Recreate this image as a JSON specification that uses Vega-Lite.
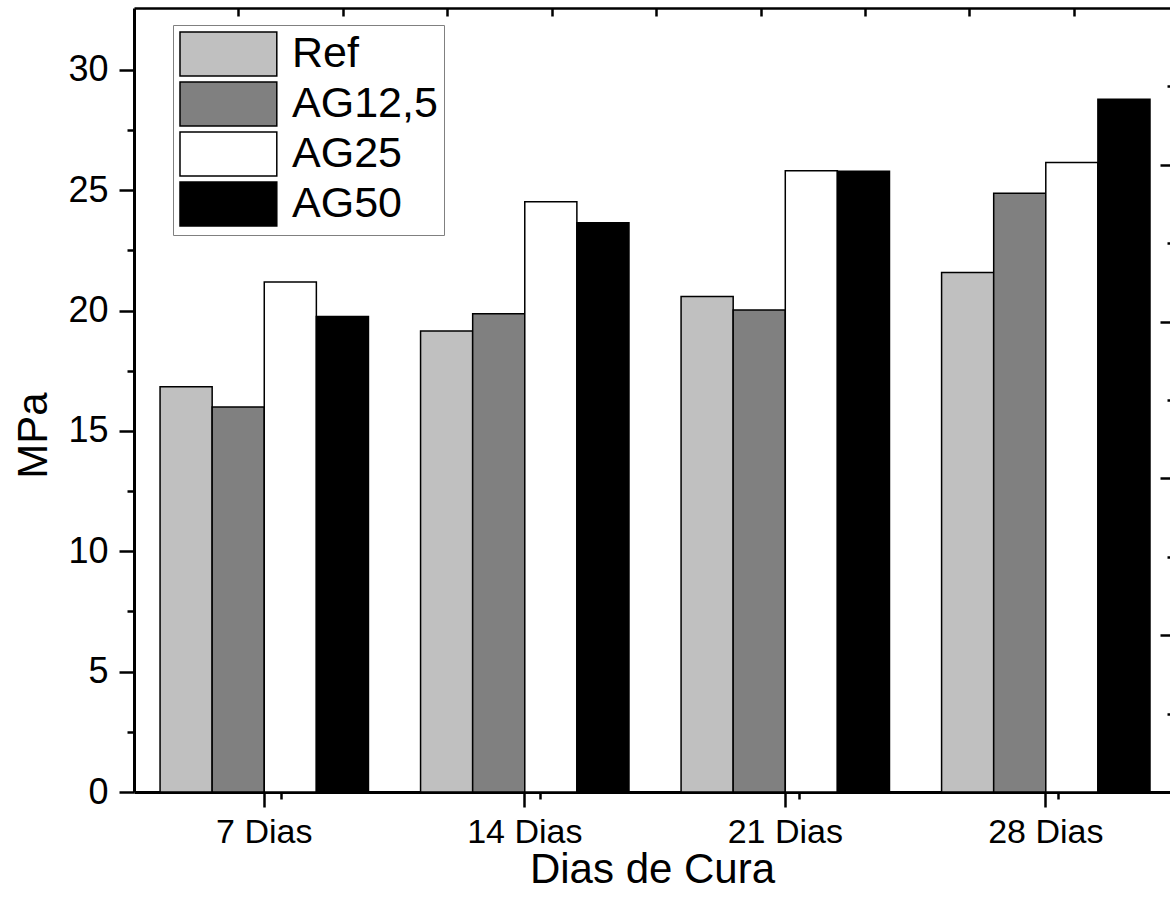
{
  "$schema": "https://vega.github.io/schema/vega-lite/v6.json",
  "width": 1036,
  "height": 784,
  "autosize": {"type": "none"},
  "padding": {"left": 134, "top": 8, "right": 0, "bottom": 119},
  "background": "white",
  "config": {
    "view": {"stroke": null},
    "font": "Liberation Sans",
    "axis": {
      "grid": false,
      "domainColor": "black",
      "tickColor": "black",
      "labelColor": "black",
      "titleColor": "black",
      "labelFont": "Liberation Sans",
      "titleFont": "Liberation Sans",
      "titleFontWeight": "normal"
    }
  },
  "data": {
    "values": [
      {"dia": "7 Dias", "serie": "Ref", "mpa": 16.84},
      {"dia": "7 Dias", "serie": "AG12,5", "mpa": 15.99},
      {"dia": "7 Dias", "serie": "AG25", "mpa": 21.19},
      {"dia": "7 Dias", "serie": "AG50", "mpa": 19.75},
      {"dia": "14 Dias", "serie": "Ref", "mpa": 19.15},
      {"dia": "14 Dias", "serie": "AG12,5", "mpa": 19.87},
      {"dia": "14 Dias", "serie": "AG25", "mpa": 24.52},
      {"dia": "14 Dias", "serie": "AG50", "mpa": 23.65},
      {"dia": "21 Dias", "serie": "Ref", "mpa": 20.58},
      {"dia": "21 Dias", "serie": "AG12,5", "mpa": 20.02},
      {"dia": "21 Dias", "serie": "AG25", "mpa": 25.81},
      {"dia": "21 Dias", "serie": "AG50", "mpa": 25.79},
      {"dia": "28 Dias", "serie": "Ref", "mpa": 21.58},
      {"dia": "28 Dias", "serie": "AG12,5", "mpa": 24.87},
      {"dia": "28 Dias", "serie": "AG25", "mpa": 26.15},
      {"dia": "28 Dias", "serie": "AG50", "mpa": 28.78}
    ]
  },
  "layer": [
    {
      "mark": {"type": "bar", "stroke": "black", "strokeWidth": 1.5},
      "encoding": {
        "x": {
          "field": "dia", "type": "nominal",
          "sort": ["7 Dias", "14 Dias", "21 Dias", "28 Dias"],
          "scale": {"paddingInner": 0.2, "paddingOuter": 0.0884, "align": 0.5657},
          "axis": {
            "orient": "bottom", "title": "Dias de Cura", "labelAngle": 0,
            "tickSize": 15, "tickWidth": 2.5, "domainWidth": 3,
            "labelFontSize": 34, "labelPadding": 8,
            "titleFontSize": 42, "titlePadding": 0
          }
        },
        "xOffset": {
          "field": "serie", "type": "nominal",
          "sort": ["Ref", "AG12,5", "AG25", "AG50"],
          "scale": {"paddingInner": 0, "paddingOuter": 0}
        },
        "y": {
          "field": "mpa", "type": "quantitative",
          "scale": {"domain": [0, 32.57], "nice": false},
          "axis": {
            "orient": "left", "title": "MPa",
            "values": [0, 5, 10, 15, 20, 25, 30],
            "tickSize": 15, "tickWidth": 2.5, "domainWidth": 3,
            "labelFontSize": 36, "labelPadding": 11,
            "titleFontSize": 42, "titlePadding": 12, "titleY": 427
          }
        },
        "fill": {
          "field": "serie", "type": "nominal",
          "scale": {
            "domain": ["Ref", "AG12,5", "AG25", "AG50"],
            "range": ["#c0c0c0", "#808080", "#ffffff", "#000000"]
          },
          "legend": {
            "orient": "none", "legendX": 39, "legendY": 17, "title": null,
            "symbolType": "M-1,-1H3.4V1H-1Z", "symbolSize": 1936,
            "symbolStrokeColor": "black", "symbolStrokeWidth": 1.5, "symbolOpacity": 1,
            "labelFontSize": 43, "labelOffset": 67, "labelLimit": 300,
            "labelColor": "black", "labelFont": "Liberation Sans",
            "rowPadding": 0, "padding": 6,
            "strokeColor": "#808080", "fillColor": "white"
          }
        }
      }
    },
    {
      "mark": {"type": "point", "opacity": 0},
      "encoding": {
        "x": {
          "field": "dia", "type": "nominal",
          "sort": ["7 Dias", "14 Dias", "21 Dias", "28 Dias"],
          "scale": {"paddingInner": 0.2, "paddingOuter": 0.0884, "align": 0.5657},
          "axis": {
            "orient": "bottom", "title": null, "labels": false, "domain": false,
            "bandPosition": -0.125, "tickSize": 7, "tickWidth": 2.5
          }
        },
        "y": {
          "field": "mpa", "type": "quantitative",
          "scale": {"domain": [0, 32.57], "nice": false},
          "axis": {
            "orient": "left", "title": null, "labels": false, "domain": false,
            "values": [2.5, 7.5, 12.5, 17.5, 22.5, 27.5],
            "tickSize": 7, "tickWidth": 2.5
          }
        }
      }
    },
    {
      "mark": {"type": "point", "opacity": 0, "clip": true},
      "encoding": {
        "x": {
          "field": "mpa", "type": "quantitative",
          "scale": {"domain": [0, 9.92], "nice": false, "zero": false},
          "axis": {
            "orient": "top", "title": null, "labels": false, "ticks": true,
            "values": [1, 2, 3, 4, 5, 6, 7, 8, 9],
            "tickSize": -8, "tickWidth": 2.5, "domainWidth": 2.5
          }
        },
        "y": {
          "field": "mpa", "type": "quantitative",
          "scale": {"domain": [0, 5], "nice": false, "zero": false},
          "axis": {
            "orient": "right", "title": null, "labels": false, "domain": false,
            "values": [1, 2, 3, 4],
            "tickSize": -10, "tickWidth": 2.5
          }
        }
      }
    },
    {
      "mark": {"type": "point", "opacity": 0, "clip": true},
      "encoding": {
        "y": {
          "field": "mpa", "type": "quantitative",
          "scale": {"domain": [0, 5], "nice": false, "zero": false},
          "axis": {
            "orient": "right", "title": null, "labels": false, "domain": false,
            "values": [0.5, 1.5, 2.5, 3.5, 4.5],
            "tickSize": -3, "tickWidth": 2.5
          }
        }
      }
    }
  ],
  "resolve": {
    "scale": {"x": "independent", "y": "independent"},
    "axis": {"x": "independent", "y": "independent"}
  }
}
